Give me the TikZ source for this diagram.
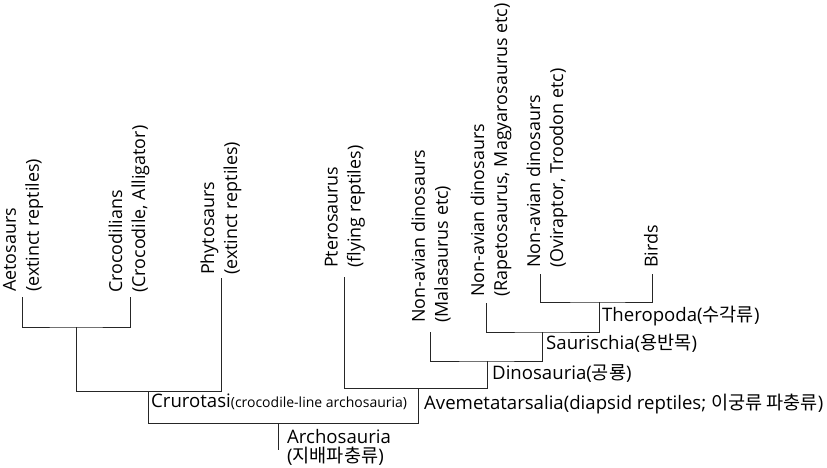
\documentclass[tikz,border=0pt]{standalone}
\usepackage{fontspec}
\setmainfont{Open Sans}
\newfontfamily\kr{Noto Sans CJK KR}
\begin{document}
\begin{tikzpicture}[x=1pt,y=-1pt,
  branch/.style={draw=black!85, line width=1pt},
  vlabel/.style={rotate=90, anchor=west, align=left, inner sep=0pt, font=\fontsize{17.9}{23}\selectfont},
  hlabel/.style={anchor=base west, inner sep=0pt, font=\fontsize{18.6}{20}\selectfont}]
\useasboundingbox[fill=white] (0,0) rectangle (827,467);
% tips
\coordinate (tAeto) at (22,297);
\coordinate (tCroc) at (130,297);
\coordinate (tPhyto) at (221,278);
\coordinate (tPtero) at (344,277);
\coordinate (tMala) at (430,332);
\coordinate (tRape) at (486,303);
\coordinate (tOvi) at (540,274);
\coordinate (tBirds) at (652,274);
% internal nodes
\coordinate (n1) at (76,327);
\coordinate (nCru) at (148,391);
\coordinate (root) at (278,423);
\coordinate (rootEnd) at (278,450);
\coordinate (nAve) at (418,388);
\coordinate (nDino) at (487,361);
\coordinate (nSaur) at (542,332);
\coordinate (nThero) at (599,302);
% branches
\draw[branch] (tAeto) |- (n1) -| (tCroc);
\draw[branch] (n1) |- (nCru) -| (tPhyto);
\draw[branch] (nCru) |- (root) -| (nAve);
\draw[branch] (root) -- (rootEnd);
\draw[branch] (tPtero) |- (nAve) -| (nDino);
\draw[branch] (tMala) |- (nDino) -| (nSaur);
\draw[branch] (tRape) |- (nSaur) -| (nThero);
\draw[branch] (tOvi) |- (nThero) -| (tBirds);
% tip labels
\node[vlabel] (lAeto) at (23,292) {Aetosaurs\\(extinct reptiles)};
\node[vlabel] (lCroc) at (129,293) {Crocodilians\\(Crocodile, Alligator)};
\node[vlabel] (lPhyto) at (221,275) {Phytosaurs\\(extinct reptiles)};
\node[vlabel] (lPtero) at (345,268) {Pterosaurus\\(flying reptiles)};
\node[vlabel] (lMala) at (431,323) {Non-avian dinosaurs\\(Malasaurus etc)};
\node[vlabel] (lRape) at (491,297) {Non-avian dinosaurs\\(Rapetosaurus, Magyarosaurus etc)};
\node[vlabel] (lOvi) at (547,268) {Non-avian dinosaurs\\(Oviraptor, Troodon etc)};
\node[vlabel] (lBirds) at (651,268) {Birds};
% clade labels
\node[hlabel] (lCru) at (151,407) {Crurotasi{\fontsize{14}{16}\selectfont(crocodile-line archosauria)}};
\node[hlabel] (lArch1) at (287,443) {Archosauria};
\node[hlabel] (lArch2) at (287,462) {({\kr 지배파충류})};
\node[hlabel] (lAve) at (424,409) {Avemetatarsalia(diapsid reptiles; {\kr 이궁류 파충류})};
\node[hlabel] (lDino) at (492,379) {Dinosauria({\kr 공룡})};
\node[hlabel] (lSaur) at (546,349) {Saurischia({\kr 용반목})};
\node[hlabel] (lThero) at (602,321) {Theropoda({\kr 수각류})};
\end{tikzpicture}
\end{document}
